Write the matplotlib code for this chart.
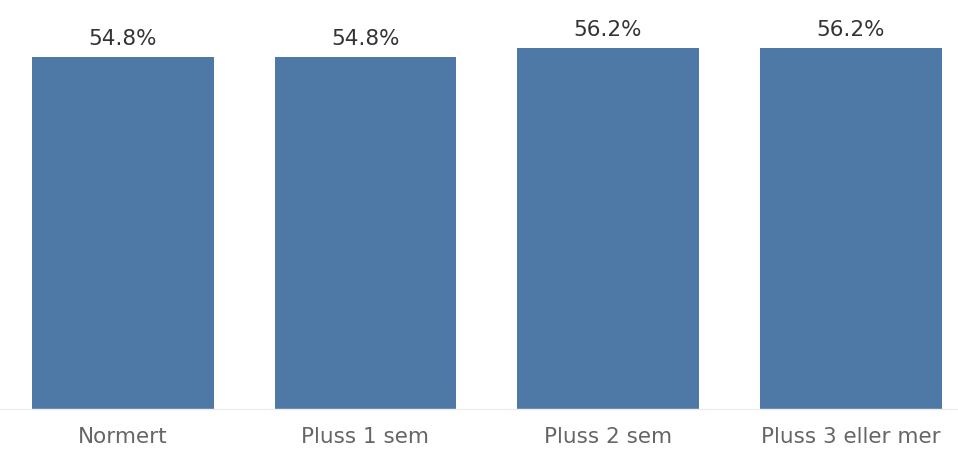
import matplotlib
matplotlib.use("Agg")
import matplotlib.pyplot as plt

categories = ["Normert", "Pluss 1 sem", "Pluss 2 sem", "Pluss 3 eller mer"]
values = [54.8, 54.8, 56.2, 56.2]
value_labels = ["54.8%", "54.8%", "56.2%", "56.2%"]

plt.rcParams['font.family'] = ['DejaVu Sans']

fig = plt.figure(figsize=(9.58, 4.5), dpi=100)
ax = fig.add_axes([0, 41/450, 1, 409/450])
x = list(range(len(categories)))
ax.bar(x, values, width=0.75, color="#4e79a7")
ax.set_xlim(-0.507, 3.443)
ax.set_ylim(0, 409/6.42)
for xi, v, lab in zip(x, values, value_labels):
    ax.annotate(lab, (xi, v), xytext=(0, 6), textcoords="offset points",
                ha="center", va="bottom", fontsize=15.5, color="#333333")
ax.set_xticks(x)
ax.set_xticklabels(categories, fontsize=15.5, color="#666666")
ax.tick_params(axis="x", length=0, pad=13)
ax.set_yticks([])
for s in ["top", "right", "left"]:
    ax.spines[s].set_visible(False)
ax.spines["bottom"].set_color("#eeeeee")
ax.spines["bottom"].set_linewidth(1)
fig.savefig("out.png", dpi=100)
